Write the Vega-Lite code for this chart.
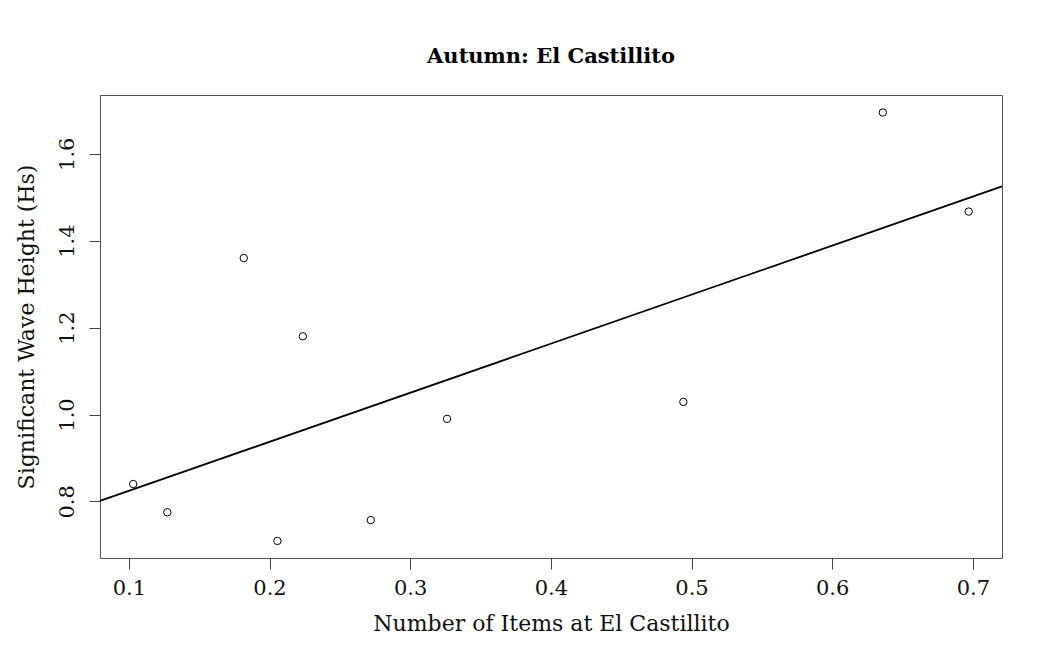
{
  "$schema": "https://vega.github.io/schema/vega-lite/v6.json",
  "width": 902,
  "height": 463,
  "autosize": {"type": "none"},
  "padding": {"left": 100, "top": 95, "right": 45, "bottom": 104},
  "background": "white",
  "title": {
    "text": "Autumn: El Castillito",
    "font": "DejaVu Serif",
    "fontSize": 21,
    "fontWeight": "bold",
    "color": "black",
    "anchor": "middle",
    "baseline": "alphabetic",
    "offset": 11
  },
  "data": {
    "values": [
      {"items": 0.1031, "hs": 0.840},
      {"items": 0.1274, "hs": 0.775},
      {"items": 0.1817, "hs": 1.360},
      {"items": 0.2056, "hs": 0.709},
      {"items": 0.2237, "hs": 1.180},
      {"items": 0.2720, "hs": 0.757},
      {"items": 0.3262, "hs": 0.990},
      {"items": 0.4942, "hs": 1.029},
      {"items": 0.6360, "hs": 1.695},
      {"items": 0.6970, "hs": 1.467}
    ]
  },
  "encoding": {
    "x": {
      "field": "items",
      "type": "quantitative",
      "scale": {"domain": [0.0795, 0.7207], "nice": false, "zero": false},
      "axis": {
        "title": "Number of Items at El Castillito",
        "values": [0.1, 0.2, 0.3, 0.4, 0.5, 0.6, 0.7],
        "format": ".1f",
        "grid": false,
        "domain": false,
        "ticks": true,
        "tickSize": 11,
        "tickWidth": 1,
        "tickColor": "#444",
        "labelFont": "DejaVu Serif",
        "labelFontSize": 21,
        "labelColor": "#111",
        "labelPadding": 8,
        "titleFont": "DejaVu Serif",
        "titleFontSize": 22,
        "titleFontWeight": "normal",
        "titleColor": "#111",
        "titlePadding": 15
      }
    },
    "y": {
      "field": "hs",
      "type": "quantitative",
      "scale": {"domain": [0.6698, 1.7352], "nice": false, "zero": false},
      "axis": {
        "title": "Significant Wave Height (Hs)",
        "values": [0.8, 1.0, 1.2, 1.4, 1.6],
        "format": ".1f",
        "grid": false,
        "domain": false,
        "ticks": true,
        "tickSize": 11,
        "tickWidth": 1,
        "tickColor": "#444",
        "labelAngle": -90,
        "labelAlign": "center",
        "labelBaseline": "bottom",
        "labelFont": "DejaVu Serif",
        "labelFontSize": 21,
        "labelColor": "#111",
        "labelPadding": 12,
        "titleFont": "DejaVu Serif",
        "titleFontSize": 22,
        "titleFontWeight": "normal",
        "titleColor": "#111",
        "titlePadding": 18
      }
    }
  },
  "layer": [
    {
      "mark": {"type": "point", "shape": "circle", "filled": false, "stroke": "black", "strokeWidth": 1, "size": 55, "opacity": 1}
    },
    {
      "transform": [{"regression": "hs", "on": "items", "extent": [0.0795, 0.7207]}],
      "mark": {"type": "line", "color": "black", "strokeWidth": 1.8}
    }
  ],
  "config": {
    "view": {"stroke": "#555", "strokeWidth": 1}
  }
}
